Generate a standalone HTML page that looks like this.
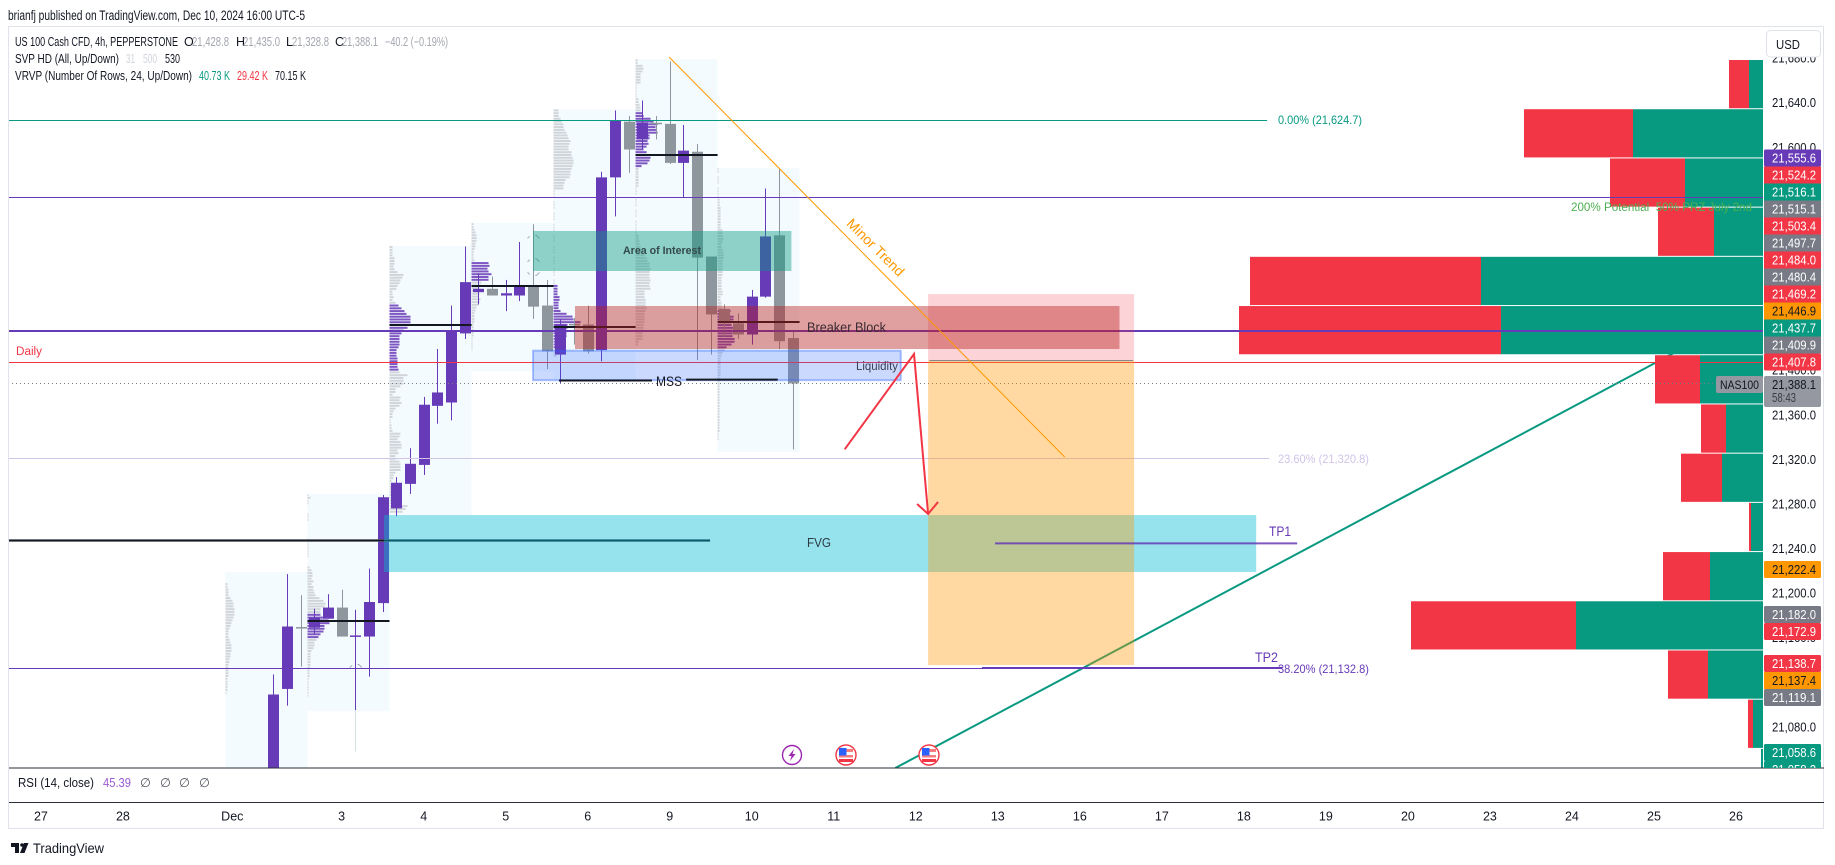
<!DOCTYPE html>
<html lang="en">
<head>
<meta charset="utf-8">
<title>US 100 Cash CFD 4h chart</title>
<style>
html,body{margin:0;padding:0;background:#fff;width:1835px;height:865px;overflow:hidden}
svg{display:block;font-family:"Liberation Sans",Arial,sans-serif}
text{white-space:pre}
</style>
</head>
<body>
<svg id="chart" xmlns="http://www.w3.org/2000/svg" width="1835" height="865" viewBox="0 0 1835 865">
<defs>
<clipPath id="pane"><rect x="9" y="27" width="1754" height="741"/></clipPath>
<clipPath id="axisClip"><rect x="1764" y="27" width="60" height="741"/></clipPath>
</defs>
<rect x="0" y="0" width="1835" height="865" fill="#ffffff"/>
<text x="8" y="20" font-size="13.5" fill="#131722" textLength="297" lengthAdjust="spacingAndGlyphs">brianfj published on TradingView.com, Dec 10, 2024 16:00 UTC-5</text>
<g clip-path="url(#pane)">
  <g id="gZones"></g>
  <g id="gProfile"></g>
  <g id="gCandles"></g>
  <g id="gPoc"></g>
  <g id="gTrendUnder"></g>
  <g id="gVrvp"></g>
  <g id="gLevels"></g>
  <g id="gDraw"></g>
</g>

<text x="623" y="254" font-size="11" font-weight="bold" fill="#33494a" textLength="78" lengthAdjust="spacingAndGlyphs">Area of Interest</text>
<text x="807" y="332" font-size="14" fill="#3a2a30" textLength="79" lengthAdjust="spacingAndGlyphs">Breaker Block</text>
<text x="856" y="370" font-size="11.5" fill="#3a4152" textLength="42" lengthAdjust="spacingAndGlyphs">Liquidity</text>
<text x="656" y="386" font-size="14" fill="#131722" textLength="26" lengthAdjust="spacingAndGlyphs">MSS</text>
<text x="807" y="547" font-size="13" fill="#2a3a44" textLength="24" lengthAdjust="spacingAndGlyphs">FVG</text>
<text x="16" y="355" font-size="11.5" fill="#f23645" textLength="26" lengthAdjust="spacingAndGlyphs">Daily</text>
<text x="1269" y="536" font-size="14" fill="#673ab7" textLength="22" lengthAdjust="spacingAndGlyphs">TP1</text>
<text x="1255" y="662" font-size="14" fill="#673ab7" textLength="23" lengthAdjust="spacingAndGlyphs">TP2</text>
<text x="1278" y="124" font-size="12" fill="#089981" textLength="84" lengthAdjust="spacingAndGlyphs">0.00% (21,624.7)</text>
<text x="1278" y="463" font-size="12" fill="#d1c4e9" textLength="91" lengthAdjust="spacingAndGlyphs">23.60% (21,320.8)</text>
<text x="1278" y="673" font-size="12" fill="#673ab7" textLength="91" lengthAdjust="spacingAndGlyphs">38.20% (21,132.8)</text>
<text x="1571" y="211" font-size="12" fill="#4caf50" textLength="181" lengthAdjust="spacingAndGlyphs">200% Potential  50% PRZ July 2nd</text>
<text x="875" y="252" font-size="14" fill="#ff9800" text-anchor="middle" transform="rotate(45 875 248)">Minor Trend</text>

<g font-size="12.5">
  <text x="15" y="46" fill="#131722" textLength="163" lengthAdjust="spacingAndGlyphs">US 100 Cash CFD, 4h, PEPPERSTONE</text>
  <text x="184" y="46" fill="#131722">O</text>
  <text x="192" y="46" fill="#a3a6af" textLength="37" lengthAdjust="spacingAndGlyphs">21,428.8</text>
  <text x="236" y="46" fill="#131722">H</text>
  <text x="243" y="46" fill="#a3a6af" textLength="37" lengthAdjust="spacingAndGlyphs">21,435.0</text>
  <text x="286" y="46" fill="#131722">L</text>
  <text x="292" y="46" fill="#a3a6af" textLength="37" lengthAdjust="spacingAndGlyphs">21,328.8</text>
  <text x="335" y="46" fill="#131722">C</text>
  <text x="342" y="46" fill="#a3a6af" textLength="36" lengthAdjust="spacingAndGlyphs">21,388.1</text>
  <text x="385" y="46" fill="#a3a6af" textLength="63" lengthAdjust="spacingAndGlyphs">−40.2 (−0.19%)</text>
  <text x="15" y="63" fill="#131722" textLength="104" lengthAdjust="spacingAndGlyphs">SVP HD (All, Up/Down)</text>
  <text x="126" y="63" fill="#d1d4dc" textLength="9" lengthAdjust="spacingAndGlyphs">31</text>
  <text x="143" y="63" fill="#d1d4dc" textLength="14" lengthAdjust="spacingAndGlyphs">500</text>
  <text x="165" y="63" fill="#131722" textLength="15" lengthAdjust="spacingAndGlyphs">530</text>
  <text x="15" y="80" fill="#131722" textLength="177" lengthAdjust="spacingAndGlyphs">VRVP (Number Of Rows, 24, Up/Down)</text>
  <text x="199" y="80" fill="#089981" textLength="31" lengthAdjust="spacingAndGlyphs">40.73 K</text>
  <text x="237" y="80" fill="#f23645" textLength="31" lengthAdjust="spacingAndGlyphs">29.42 K</text>
  <text x="275" y="80" fill="#131722" textLength="31" lengthAdjust="spacingAndGlyphs">70.15 K</text>
</g>

<g>
  <g>
    <circle cx="792" cy="755" r="9.5" fill="#fff" stroke="#9c27b0" stroke-width="1.4"/>
    <polygon points="794,749 788.5,756 791.5,756 790,761 795.5,754 792.5,754" fill="#9c27b0"/>
  </g>
  <g>
    <circle cx="846" cy="755" r="10" fill="#fff" stroke="#f23645" stroke-width="1.4"/>
    <rect x="839" y="749" width="14" height="3" fill="#f77c80"/>
    <rect x="839" y="755" width="14" height="2.5" fill="#f77c80"/>
    <rect x="839" y="759" width="14" height="3" fill="#f23645"/>
    <rect x="839" y="748" width="7.5" height="7.5" fill="#2962ff"/>
  </g>
  <g>
    <circle cx="929" cy="755" r="10" fill="#fff" stroke="#f23645" stroke-width="1.4"/>
    <rect x="922" y="749" width="14" height="3" fill="#f77c80"/>
    <rect x="922" y="755" width="14" height="2.5" fill="#f77c80"/>
    <rect x="922" y="759" width="14" height="3" fill="#f23645"/>
    <rect x="922" y="748" width="7.5" height="7.5" fill="#2962ff"/>
  </g>
</g>

<!-- pane frame -->
<rect x="8.5" y="26.5" width="1815" height="802" fill="none" stroke="#e0e3eb"/>
<line x1="9" y1="768" x2="1824" y2="768" stroke="#2a2e39" stroke-width="1"/>
<line x1="9" y1="802.5" x2="1824" y2="802.5" stroke="#2a2e39" stroke-width="1"/>

<g font-size="12.5">
  <text x="18" y="787" fill="#131722" textLength="76" lengthAdjust="spacingAndGlyphs">RSI (14, close)</text>
  <text x="103" y="787" fill="#9c5bd4" textLength="28" lengthAdjust="spacingAndGlyphs">45.39</text>
  <text x="140" y="787" fill="#50535e">∅</text>
  <text x="160" y="787" fill="#50535e">∅</text>
  <text x="179" y="787" fill="#50535e">∅</text>
  <text x="199" y="787" fill="#50535e">∅</text>
</g>

<g id="gPriceAxis"></g>
<g id="gTimeAxis"></g>

<g>
  <rect x="1766.5" y="30.5" width="54" height="26.5" rx="4" fill="#ffffff" stroke="#e0e3eb"/>
  <text x="1776" y="49" font-size="13" fill="#131722" textLength="24" lengthAdjust="spacingAndGlyphs">USD</text>
</g>

<g>
  <rect x="11" y="843" width="8" height="4" fill="#131722"/>
  <rect x="15" y="843" width="4" height="10" fill="#131722"/>
  <circle cx="22" cy="845" r="1.8" fill="#131722"/>
  <polygon points="24,843 28.5,843 24.5,853 20,853" fill="#131722"/>
  <text x="33" y="853" font-size="14" fill="#131722" textLength="71" lengthAdjust="spacingAndGlyphs">TradingView</text>
</g>

<script>
/* ---------- chart data ---------- */
const open  = [21014,21114,21169.5,21169,21177,21187,21161,21161,21191,21276,21298,21315,21368,21371,21433,21470,21473,21467,21467,21476,21458,21414,21441.5,21441,21418,21573,21623,21607,21622,21621,21586,21596,21502,21455,21442,21432,21466,21521,21428.8];
const high  = [21127,21217,21198,21186,21199,21203,21185,21222,21288,21304,21330,21376,21419,21458,21511,21487,21484,21481,21515,21531,21481,21446,21447,21458,21578,21633,21628,21642,21628,21677,21620,21603,21502,21459,21451,21472,21563,21581,21435];
const low   = [21005,21099,21134,21163,21177,21161,21095,21125,21183,21269,21289,21306,21352,21355,21428,21459,21467,21453,21462,21446,21401,21388,21423,21415,21408,21538,21577,21598,21607,21585,21555,21409,21414,21430,21428,21423,21465,21419,21328.8];
const close = [21109,21170,21168.5,21178,21187,21161,21162,21192,21286,21299,21316,21369,21380,21435,21479,21473,21467,21469,21475,21457,21417,21441,21440.5,21417,21573,21624,21598,21622,21621,21586,21597,21501,21450,21442,21432,21466,21520,21426,21388.1];

const vrvpUp   = [448,4160,2496,1568,9024,8384,2016,1184,1312,384,1696,5984,1760,320,64];
const vrvpDown = [640,3488,2400,1792,7392,8384,1440,800,1312,64,1504,5280,1280,160,0];

const priceTicks = [21680,21640,21600,21560,21520,21480,21440,21400,21360,21320,21280,21240,21200,21160,21120,21080,21040];
const timeTickBars = [-17,-11,-3,5,11,17,23,29,35,41,47,53,59,65,71,77,83,89,95,101,107];
const timeTickLabels = ["27","28","Dec","3","4","5","6","9","10","11","12","13","16","17","18","19","20","23","24","25","26"];

const zoneStart = [-3.5,2.5,8.5,14.5,20.5,26.5,32.5];
const zoneHigh  = [21218.9,21288.9,21511.4,21532,21634,21679,21581.4];
const zoneLow   = [21000,21094,21270,21399,21391,21416,21326.5];
const pocPrice  = [null,21175,21440.5,21475.5,21438.5,21593,21443.5];

const profileTop = [21209,21288.9,21511.4,21532,21634,21679,21581.4];
const profileAccentFrom = [-1,43,21,14,63,19,51];
const profileAccentTo   = [-1,51,44,20,85,38,64];
const profile1 = [2,2,3,3,3,5,7,8,8,9,9,9,8,7,6,5,4,3,3,3,4,5,6,6,6,5,5,4,4,3,3,3,3,3,2,2,2,2,2,1];
const profile2 = [1,3,1,1,0,0,0,1,1,1,0,0,0,0,0,0,1,1,1,1,1,1,1,0,0,0,2,4,5,5,4,6,4,6,6,7,8,12,16,18,17,13,13,13,18,21,22,17,17,16,13,11,9,7,7,6,4,3,3,3,3,3,3,2,2,2,1,1,1,1,1,1,1];
const profile3 = [3,3,3,3,5,5,5,4,5,8,14,13,11,10,8,7,3,3,4,3,6,9,12,15,17,21,21,21,18,18,14,12,10,10,10,10,9,7,7,7,8,8,8,8,9,10,18,14,14,14,11,6,6,3,11,10,12,10,6,4,3,3,1,1,2,2,3,11,10,8,11,12,12,8,9,6,6,10,11,11,11,6,4,4,2,1,3,4,3,4,4,11,10,18,16,13];
const profile4 = [2,2,3,4,5,5,5,4,4,3,2,2,2,3,17,18,16,17,20,17,17,10,9,8,8,8,7,9,8,7,5,4,3,3,3,3,2,2,2,2,2,1,1,1,1,1];
const profile5 = [5,5,5,7,8,10,10,11,13,14,15,17,16,15,15,18,18,19,20,20,19,18,17,17,16,12,11,10,10,1,1,1,0,1,1,1,0,1,1,1,0,1,1,1,0,1,1,1,0,1,1,1,0,1,1,1,0,1,1,1,0,1,1,4,4,4,4,6,6,5,5,5,7,13,19,20,27,14,14,13,13,13,12,12,8,6,5,3,3];
const profile6 = [2,2,7,8,7,5,5,5,5,1,1,1,1,1,3,3,4,5,5,7,8,15,18,22,20,21,22,14,14,12,13,11,8,11,14,15,14,12,6,3,3,3,3,3,3,3,1,1,1,0,1,1,1,0,1,1,1,0,1,1,1,1,1,3,3,4,4,5,6,7,9,11,12,14,14,15,14,14,14,15,14,14,15,9,9,9,10,10,10,11,10,9,9,9,9,8,8,8,7,7,7,3,2];
const profile7 = [1,1,0,1,1,1,0,1,1,1,1,2,2,2,3,3,3,3,3,3,3,3,5,5,5,6,5,4,4,5,6,6,6,5,5,5,5,5,5,4,4,4,4,4,5,5,3,3,4,4,5,13,12,16,16,14,14,20,15,15,15,17,17,14,9,7,5,4,3,3,3,3,3,3,3,2,2,2,2,2,2,2,2,2,2,2,2,2,2,2,2,2,2,2,2,1,1,1];
const profiles = [profile1,profile2,profile3,profile4,profile5,profile6,profile7];

/* ---------- axis functions ---------- */
const X = function(bar){ return 273.3 + 13.67 * bar; };
const Y = function(price){ return 102.7 + (21640 - price) * 1.1145; };
const PRICE_ROW = 2.5;
const VRVP_TOP = 21678.3;
const VRVP_ROW = 44.15;
const VRVP_RIGHT = 1763;
const VRVP_SCALE = 1/32;

const NS = 'http://www.w3.org/2000/svg';
const mk = function(tag, parent, props){
  const e = document.createElementNS(NS, tag);
  for (const k in props) e.setAttribute(k, props[k]);
  document.getElementById(parent).appendChild(e);
  return e;
};

/* ---------- session zones ---------- */
zoneStart.forEach(function(s, i){
  const r = mk('rect', 'gZones', {x:X(s), y:Y(zoneHigh[i]), width:X(s+6)-X(s), height:Y(zoneLow[i])-Y(zoneHigh[i]), fill:'#f3fbfe'});
  
  
});

/* ---------- session volume profiles ---------- */
profiles.forEach(function(rows, z){
  rows.forEach(function(w, i){
    if (!w) return;
    const accent = i >= profileAccentFrom[z] && i <= profileAccentTo[z];
    const r = mk('rect', 'gProfile', {x:X(zoneStart[z]), y:Y(profileTop[z] - i*PRICE_ROW), width:w, height:2, fill: accent ? '#7e57c2' : '#d1d5da'});
    
    
  });
});

/* ---------- candles ---------- */
open.forEach(function(o, i){
  const c = close[i];
  const col = c >= o ? '#673ab7' : '#8f979e';
  const cx = Math.round(X(i));
  const wick = mk('rect', 'gCandles', {x:cx, y:Y(high[i]), width:1, height:Math.max(1, Y(low[i])-Y(high[i])), fill:col});
  
  
  const top = Y(Math.max(o, c));
  const body = mk('rect', 'gCandles', {x:cx-5, y:top, width:11, height:Math.max(1.5, Y(Math.min(o, c))-top), fill:col});
  
  
});
const faintWick = mk('line', 'gCandles', {x1:Math.round(X(6))+0.5, y1:Y(21095), x2:Math.round(X(6))+0.5, y2:Y(21058), stroke:'#d0e4e2', 'stroke-width':1});



/* ---------- pivot chevrons ---------- */
const chevronBars = [19,19,19,6];
const chevronPrices = [21520,21499,21486,21135];
const chevronDirs = [1,1,-1,1];
chevronBars.forEach(function(b, i){
  const cx = X(b)+0.5, cy = Y(chevronPrices[i]), d = chevronDirs[i];
  const pts = (cx-6)+','+(cy+d*2)+' '+(cx-3)+','+(cy-d*1)+' '+(cx+3)+','+(cy-d*1)+' '+(cx+6)+','+(cy+d*2);
  const p = mk('polyline', 'gCandles', {points:pts, fill:'none', stroke:'#a9adb5', 'stroke-width':1, 'stroke-dasharray':'3 6 3 0'});
  
  
});

/* ---------- POC lines ---------- */
pocPrice.forEach(function(p, i){
  if (p === null) return;
  const y = Math.round(Y(p));
  const l = mk('line', 'gPoc', {x1:X(zoneStart[i]), x2:X(zoneStart[i]+6), y1:y, y2:y, stroke:'#131722', 'stroke-width':2});
  
  
});
const longY = Math.round(Y(21247.3)) + 0.5;
const longHalo = mk('line', 'gPoc', {x1:8, x2:X(31.95), y1:longY, y2:longY, stroke:'#6a6d75', 'stroke-width':3, opacity:0.7});


const longPoc = mk('line', 'gPoc', {x1:8, x2:X(31.95), y1:longY, y2:longY, stroke:'#131722', 'stroke-width':1.5});



/* ---------- rising trend line (sits under the volume profile) ---------- */
const trendUp = mk('line', 'gTrendUnder', {x1:X(45.5), y1:Y(21043), x2:X(105.75), y2:Y(21437), stroke:'#089981', 'stroke-width':2});



/* ---------- VRVP ---------- */
vrvpUp.forEach(function(u, i){
  const top = Y(VRVP_TOP - i*VRVP_ROW);
  const h = VRVP_ROW*1.1145 - 1;
  const uw = u*VRVP_SCALE, dw = vrvpDown[i]*VRVP_SCALE;
  const g = mk('rect', 'gVrvp', {x:VRVP_RIGHT-uw, y:top, width:uw, height:h, fill:'#089981'});
  
  
  const r = mk('rect', 'gVrvp', {x:VRVP_RIGHT-uw-dw, y:top, width:dw, height:h, fill:'#f23645'});
  
  
});

/* ---------- horizontal levels ---------- */
const levelPrices = [21624.7,21555.6,21435.2,21407,21388.1,21320.8,21132.8];
const levelEndBars = [72.7,200,200,200,105.9,72.85,72.85];
const levelColors = ['#089981','#673ab7','#673ab7','#f23645','#787b86','#d1c4e9','#673ab7'];
const levelWidths = [1,1,2,1,1,1,1];
const levelDash = ['','','','','1 3','',''];
levelPrices.forEach(function(p, i){
  const y = Math.round(Y(p)) + (levelWidths[i] === 1 ? 0.5 : 0);
  const l = mk('line', 'gLevels', {x1:8, x2:X(levelEndBars[i]), y1:y, y2:y, stroke:levelColors[i], 'stroke-width':levelWidths[i], 'stroke-dasharray':levelDash[i]});
  
  
});

/* ---------- drawings ---------- */
const boxLeft   = [8.1,19,22.07,47.9,47.9];
const boxRight  = [71.9,37.9,61.9,62.97,62.97];
const boxTop    = [21270,21524.9,21457.6,21468.3,21409];
const boxBottom = [21218.9,21489,21419,21409,21135.4];
const boxFill   = ['rgba(0,188,212,0.41)','rgba(8,153,129,0.43)','rgba(183,28,28,0.42)','rgba(242,54,69,0.22)','rgba(255,152,0,0.37)'];
const boxNames  = ['fvg-zone','area-of-interest-zone','breaker-block-zone','position-stop-zone','position-target-zone'];
const drawOrder = [0,3,4,1,2];
drawOrder.forEach(function(i){
  const r = mk('rect', 'gDraw', {x:X(boxLeft[i]), y:Y(boxTop[i]), width:X(boxRight[i])-X(boxLeft[i]), height:Y(boxBottom[i])-Y(boxTop[i]), fill:boxFill[i]});
  
  
});
const liq = mk('rect', 'gDraw', {x:X(19), y:Y(21417.5), width:X(45.9)-X(19), height:Y(21391)-Y(21417.5), fill:'rgba(41,98,255,0.24)', stroke:'rgba(41,98,255,0.38)', 'stroke-width':2});


const entry = mk('line', 'gDraw', {x1:X(48), x2:X(62.9), y1:Y(21409)+0.5, y2:Y(21409)+0.5, stroke:'#787b86', 'stroke-width':1});



const minorTrend = mk('line', 'gDraw', {x1:X(28.95), y1:Y(21681), x2:X(57.9), y2:Y(21322), stroke:'#ff9800', 'stroke-width':1});



const mss1 = mk('line', 'gDraw', {x1:X(20.9), x2:X(27.7), y1:Y(21390.7), y2:Y(21390.7), stroke:'#131722', 'stroke-width':2});


const mss2 = mk('line', 'gDraw', {x1:X(30.2), x2:X(36.9), y1:Y(21391.5), y2:Y(21391.5), stroke:'#131722', 'stroke-width':2});



const tp1 = mk('line', 'gDraw', {x1:X(52.8), x2:X(74.9), y1:Y(21244.6), y2:Y(21244.6), stroke:'#673ab7', 'stroke-width':2, opacity:0.85});


const tp2 = mk('line', 'gDraw', {x1:X(51.84), x2:X(73.8), y1:Math.round(Y(21132.8)), y2:Math.round(Y(21132.8)), stroke:'#673ab7', 'stroke-width':2});



const ax = X(47.9), ay = Y(21271);
const arrowPts = [[X(41.8),Y(21329)],[X(46.87),Y(21414.5)],[ax,ay]].map(function(p){return p.join(',');}).join(' ');
const arrow = mk('polyline', 'gDraw', {points:arrowPts, fill:'none', stroke:'#f23645', 'stroke-width':2});


const head = mk('polyline', 'gDraw', {points:(ax-11)+','+(ay-10)+' '+ax+','+ay+' '+(ax+10)+','+(ay-12), fill:'none', stroke:'#f23645', 'stroke-width':2});



/* ---------- price axis ---------- */
const fmt = function(v){ return v.toLocaleString('en-US', {minimumFractionDigits:1, maximumFractionDigits:1}); };
priceTicks.forEach(function(p){
  const y = Y(p);
  if (y > 775) return;
  const t = mk('text', 'gPriceAxis', {x:1772, y:y+4.5, 'font-size':12.5, fill:'#131722', textLength:44, lengthAdjust:'spacingAndGlyphs', 'clip-path':'url(#axisClip)'});
  t.textContent = fmt(p);
  
  
});

const C_PUR = '#673ab7', C_RED = '#f23645', C_GRN = '#089981', C_GRY = '#787b86', C_ORG = '#ff9800';
const groupATop = 149.5;
const groupAValues = [21555.6,21524.2,21516.1,21515.1,21503.4,21497.7,21484.0,21480.4,21469.2,21446.9,21437.7,21409.9,21407.8];
const groupAColors = [C_PUR,C_RED,C_GRN,C_GRY,C_RED,C_GRY,C_RED,C_GRY,C_RED,C_ORG,C_GRN,C_GRY,C_RED];
const groupBTop = 561;
const groupBValues = [21222.4];
const groupBColors = [C_ORG];
const groupCTop = 606;
const groupCValues = [21182.0,21172.9];
const groupCColors = [C_GRY,C_RED];
const groupDTop = 655;
const groupDValues = [21138.7,21137.4,21119.1];
const groupDColors = [C_RED,C_ORG,C_GRY];
const groupETop = 744;
const groupEValues = [21058.6,21058.2];
const groupEColors = [C_GRN,C_GRN];

function drawLabelGroup(top, values, colors){
  values.forEach(function(v, i){
    const y = top + i*17;
    const bg = mk('rect', 'gPriceAxis', {x:1764, y:y, width:57, height:17, rx:i===0||i===values.length-1?1.5:0, fill:colors[i], 'clip-path':'url(#axisClip)'});
    
    
    const t = mk('text', 'gPriceAxis', {x:1772, y:y+13, 'font-size':12.5, fill:colors[i]===C_ORG?'#131722':'#ffffff', textLength:44, lengthAdjust:'spacingAndGlyphs', 'clip-path':'url(#axisClip)'});
    t.textContent = fmt(v);
    
    
  });
}
drawLabelGroup(groupATop, groupAValues, groupAColors);
drawLabelGroup(groupBTop, groupBValues, groupBColors);
drawLabelGroup(groupCTop, groupCValues, groupCColors);
drawLabelGroup(groupDTop, groupDValues, groupDColors);
drawLabelGroup(groupETop, groupEValues, groupEColors);

const lastBox = mk('rect', 'gPriceAxis', {x:1764, y:376, width:57, height:31, rx:2, fill:'#9598a1'});


const lastText = mk('text', 'gPriceAxis', {x:1772, y:389, 'font-size':12.5, fill:'#131722', textLength:44, lengthAdjust:'spacingAndGlyphs'});
lastText.textContent = fmt(close[close.length-1]);


const countdown = mk('text', 'gPriceAxis', {x:1772, y:402, 'font-size':12.5, fill:'#3a3d45', textLength:24, lengthAdjust:'spacingAndGlyphs'});
countdown.textContent = '58:43';


const symBox = mk('rect', 'gPriceAxis', {x:1716, y:376, width:47, height:17, rx:2, fill:'#9598a1'});


const symText = mk('text', 'gPriceAxis', {x:1720, y:389, 'font-size':12, fill:'#131722', textLength:39, lengthAdjust:'spacingAndGlyphs'});
symText.textContent = 'NAS100';



/* ---------- time axis ---------- */
timeTickBars.forEach(function(b, i){
  const t = mk('text', 'gTimeAxis', {x:X(b), y:820.5, 'font-size':12.5, fill:'#131722', 'text-anchor':'middle'});
  t.textContent = timeTickLabels[i];
  
  
});
</script>
</svg>
</body>
</html>
